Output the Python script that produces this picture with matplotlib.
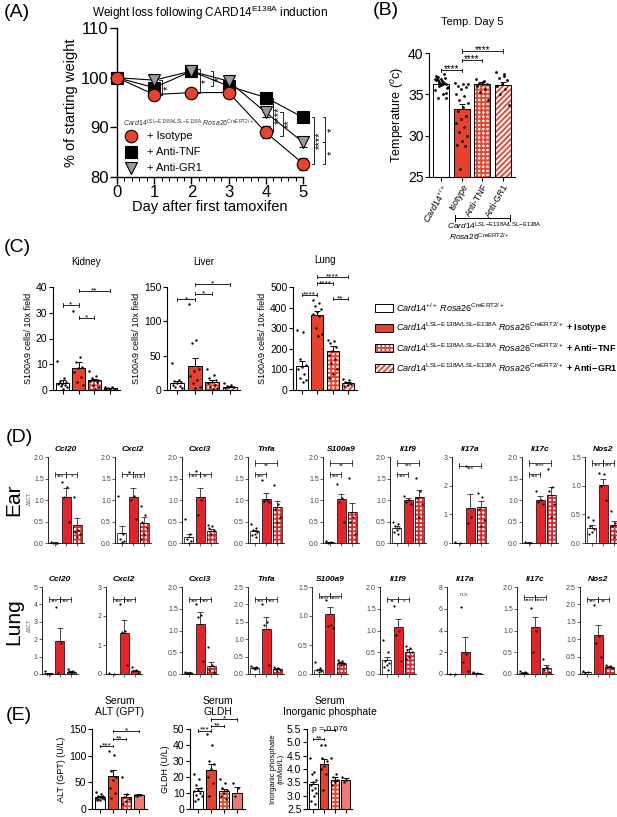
import numpy as np
import matplotlib
matplotlib.use("Agg")
import matplotlib.pyplot as plt
from matplotlib.patches import Rectangle

plt.rcParams['font.family'] = ['Liberation Sans', 'DejaVu Sans']
plt.rcParams['mathtext.fontset'] = 'custom'
plt.rcParams['mathtext.rm'] = 'Liberation Sans'
plt.rcParams['mathtext.it'] = 'Liberation Sans:italic'
plt.rcParams['mathtext.bf'] = 'Liberation Sans:bold'
plt.rcParams['hatch.linewidth'] = 1.3

RED = '#e8412c'
DRED = '#e3242b'
W, H = 617, 817

# ---------------- data ----------------
# (A) weight loss
days = [0, 1, 2, 3, 4, 5]
w_iso = [100, 96.6, 97.0, 97.0, 89.0, 82.7]
w_iso_err = [0.3, 0.8, 0.8, 0.9, 1.2, 1.2]
w_tnf = [100, 98.0, 101.3, 98.3, 96.0, 92.0]
w_tnf_err = [0.3, 0.8, 0.8, 0.8, 0.8, 0.8]
w_gr1 = [100, 99.5, 101.3, 99.3, 93.0, 87.0]
w_gr1_err = [0.3, 0.8, 0.8, 0.8, 1.0, 1.0]

# (B) temperature day 5
temp_labels = [r'$\mathit{Card14}^{+/+}$', 'Isotype', 'Anti-TNF', 'Anti-GR1']
temp_means = [36.2, 33.2, 36.2, 36.1]
temp_sems = [0.15, 0.6, 0.25, 0.35]
temp_dots = [
    [36.9, 36.5, 36.7, 36.2, 36.8, 37.2, 36.4, 36.0, 35.8, 36.6, 36.9, 37.0, 36.3,
     35.5, 35.0, 34.6, 34.5, 36.1, 36.7, 37.4, 36.5, 35.9, 36.2, 37.1, 35.2],
    [36.4, 36.3, 36.0, 35.9, 35.6, 35.0, 34.8, 34.3, 33.9, 33.5, 33.0, 32.4, 32.0,
     31.5, 31.0, 30.5, 30.0, 29.4, 28.9, 28.8, 26.0, 36.2],
    [36.9, 36.6, 36.4, 36.3, 36.2, 36.0, 35.7, 35.3, 34.3, 36.5],
    [37.7, 37.4, 37.0, 36.7, 36.3, 36.0, 35.6, 35.0, 33.7, 37.2],
]

# (C) S100A9 cells
organs = ['Kidney', 'Liver', 'Lung']
s100_means = [[2.8, 8.5, 3.8, 0.7], [10.5, 35, 12, 5], [115, 365, 188, 35]]
s100_sems = [[0.9, 2.5, 0.6, 0.2], [3, 11, 3, 1], [28, 20, 25, 6]]
s100_dots = [
    [[11.2, 4.5, 3.5, 3.0, 2.5, 2.2, 1.8, 1.5, 1.0, 0.5, 2.8],
     [30.5, 13, 11, 9, 8.5, 7, 5, 3, 2],
     [7.5, 5.5, 4.5, 4, 3.8, 3.5, 3, 2, 1, 0.5],
     [1.2, 1.0, 0.6, 0.4, 0.3, 0.2]],
    [[40, 15, 13, 12, 10, 8, 6, 5, 3],
     [125, 73, 68, 30, 28, 20, 15, 10, 5, 3],
     [30, 22, 18, 15, 12, 10, 8, 5, 3, 1],
     [10, 8, 6, 5, 4, 3]],
    [[290, 280, 150, 120, 110, 100, 80, 60, 50, 40],
     [435, 420, 410, 395, 380, 370, 360, 300, 270, 260],
     [245, 240, 230, 210, 190, 170, 150, 130, 100, 80, 60],
     [55, 50, 40, 30, 25, 20]],
]
s100_ymax = [40, 150, 500]
s100_step = [10, 50, 100]

# (D) qPCR
genes = ['Ccl20', 'Cxcl2', 'Cxcl3', 'Tnfa', 'S100a9', 'Il1f9', 'Il17a', 'Il17c', 'Nos2']
ear_means = [[0.01, 1.08, 0.42], [0.24, 1.07, 0.46], [0.13, 1.07, 0.28], [0.27, 1.03, 0.83],
             [0.02, 1.03, 0.71], [0.34, 1.01, 1.08], [0.01, 1.22, 1.26], [0.01, 1.01, 1.11],
             [0.27, 1.02, 0.32]]
ear_sems = [[0.005, 0.2, 0.16], [0.15, 0.22, 0.14], [0.08, 0.22, 0.05], [0.04, 0.14, 0.15],
            [0.01, 0.12, 0.22], [0.05, 0.04, 0.15], [0.005, 0.48, 0.22], [0.005, 0.08, 0.2],
            [0.04, 0.1, 0.06]]
ear_dots = [
    [[0.02, 0.01, 0.0, 0.01], [1.42, 1.3, 1.08, 0.5], [1.07, 0.3, 0.25, 0.2, 0.15]],
    [[1.1, 0.2, 0.1, 0.05, 0.02], [1.65, 1.1, 1.0, 0.55], [0.85, 0.65, 0.5, 0.35, 0.2, 0.1]],
    [[0.55, 0.2, 0.1, 0.05, 0.0], [1.68, 1.0, 0.65], [0.42, 0.4, 0.35, 0.3, 0.2]],
    [[0.45, 0.35, 0.3, 0.25, 0.2, 0.18, 0.15], [1.47, 1.0, 0.98, 0.95], [1.35, 0.9, 0.8, 0.6, 0.5]],
    [[0.05, 0.02, 0.01], [1.37, 1.05, 0.95, 0.5], [1.52, 0.6, 0.5, 0.2]],
    [[0.5, 0.45, 0.4, 0.35, 0.3, 0.25, 0.2], [1.1, 1.0, 0.95, 0.9], [1.52, 1.2, 1.05, 0.9, 0.6]],
    [[0.02, 0.01], [2.7, 0.9, 0.7], [1.75, 1.6, 1.2, 0.8, 0.6]],
    [[0.02, 0.01], [1.2, 1.0, 0.95, 0.9], [1.72, 1.3, 1.2, 0.9, 0.6]],
    [[0.45, 0.4, 0.3, 0.25, 0.2, 0.15], [1.22, 1.2, 1.0, 0.75], [0.55, 0.35, 0.3, 0.2, 0.1]],
]
ear_ymax = [2, 2, 2, 2, 2, 2, 3, 2, 1.5]
ear_sig = [
    [(0, 1, '***', .8), (1, 2, '*', .8)],
    [(0, 1, '*', .8), (1, 2, 'n.s', .8)],
    [(0, 1, '***', .8), (1, 2, '**', .8)],
    [(0, 1, '***', .8), (0, 2, '**', .93)],
    [(0, 1, '***', .8), (0, 2, '**', .93)],
    [(0, 1, '***', .8), (0, 2, '***', .93)],
    [(0, 2, '***', .9)],
    [(0, 1, '***', .8), (0, 2, '****', .93)],
    [(0, 1, '***', .93), (1, 2, '***', .93)],
]

lung_means = [[0.03, 1.9, 0.12], [0.01, 1.4, 0.1], [0.03, 1.15, 0.18], [0.18, 1.28, 0.15],
              [0.07, 1.03, 0.19], [0.32, 1.07, 0.51], [0.01, 2.05, 0.08], [0.03, 1.09, 0.14],
              [0.05, 1.12, 0.2]]
lung_sems = [[0.02, 0.75, 0.05], [0.005, 0.45, 0.04], [0.01, 0.27, 0.1], [0.02, 0.37, 0.02],
             [0.02, 0.12, 0.02], [0.08, 0.2, 0.06], [0.005, 1.35, 0.02], [0.01, 0.22, 0.06],
             [0.01, 0.3, 0.02]]
lung_dots = [
    [[0.15, 0.02, 0.0], [3.85, 1.8, 0.05], [0.3, 0.2, 0.15, 0.1, 0.05]],
    [[0.02, 0.01], [2.42, 1.5, 1.45, 0.3], [0.25, 0.15, 0.1, 0.05]],
    [[0.05, 0.03, 0.02], [1.6, 1.35, 1.3, 0.3], [0.62, 0.2, 0.1, 0.05]],
    [[0.22, 0.2, 0.18, 0.16, 0.15], [2.0, 1.5, 1.4, 0.25], [0.2, 0.17, 0.15, 0.12, 0.1]],
    [[0.2, 0.1, 0.07, 0.05, 0.03], [1.28, 0.85, 0.82, 0.8], [0.25, 0.22, 0.2, 0.18, 0.15]],
    [[0.78, 0.5, 0.3, 0.25, 0.2, 0.15, 0.1], [1.57, 1.0, 0.9, 0.3], [0.65, 0.6, 0.55, 0.5, 0.4, 0.35]],
    [[0.02, 0.01], [6.2, 1.8, 1.1, 0.3], [0.15, 0.1, 0.05]],
    [[0.06, 0.04, 0.03, 0.02], [1.52, 1.0, 0.5], [0.35, 0.15, 0.1, 0.05]],
    [[0.08, 0.05, 0.03], [1.98, 1.1, 0.9, 0.5], [0.25, 0.22, 0.2, 0.18]],
]
lung_ymax = [5, 3, 2, 2.5, 1.5, 2, 8, 2, 2.5]
lung_sig = [
    [(0, 1, '***', .86), (1, 2, '***', .86)],
    [(0, 1, '***', .86), (1, 2, '***', .86)],
    [(0, 1, '***', .86), (1, 2, '***', .86)],
    [(0, 1, '***', .86), (1, 2, '***', .86)],
    [(0, 1, '****', .9), (1, 2, '****', .9)],
    [(0, 1, '**', .86), (1, 2, '*', .86)],
    [],
    [(0, 1, '****', .88), (1, 2, '****', .88)],
    [(0, 1, '***', .86), (1, 2, '**', .86)],
]

# (E) serum
serum_titles = ['Serum\nALT (GPT)', 'Serum\nGLDH', 'Serum\nInorganic phosphate']
serum_ylabels = ['ALT (GPT) (U/L)', 'GLDH (U/L)', 'Inorganic phosphate\n(mMol/L)']
serum_means = [[22, 62, 23, 26], [11.5, 24.5, 11, 10.3], [3.43, 4.17, 3.58, 3.6]]
serum_sems = [[2, 11, 6, 1.5], [1.5, 3.5, 1.8, 3.5], [0.1, 0.2, 0.12, 0.07]]
serum_dots = [
    [[32, 28, 25, 24, 22, 21, 20, 19, 18, 17, 16, 22], [108, 102, 72, 60, 55, 40, 30, 20],
     [60, 28, 22, 18, 15, 10], [27, 26, 25]],
    [[22, 19, 15, 13, 12, 11, 10, 9, 8, 6, 5], [47, 40, 30, 28, 25, 20, 16, 8],
     [19, 16, 13, 12, 10, 8, 6], [16, 13, 8]],
    [[4.4, 3.9, 3.8, 3.6, 3.5, 3.4, 3.3, 3.2, 3.1, 3.0, 2.8, 2.7], [4.9, 4.9, 4.4, 4.3, 4.1, 4.0, 3.8, 3.2],
     [4.4, 3.8, 3.7, 3.6, 3.5, 3.4], [3.7, 3.6, 3.5]],
]
serum_ylim = [(0, 150), (0, 50), (2.5, 5.5)]
serum_ticks = [[0, 50, 100, 150], [0, 10, 20, 30, 40, 50],
               [2.5, 3.0, 3.5, 4.0, 4.5, 5.0, 5.5]]

STYLES4 = ['ctrl', 'iso', 'tnf', 'gr1']
STYLES3 = ['ctrl', 'iso', 'tnf']


# ---------------- helpers ----------------
fig = plt.figure(figsize=(W / 100, H / 100), dpi=100)


def ax_px(left, top, right, bottom):
    return fig.add_axes([left / W, 1 - bottom / H, (right - left) / W, (bottom - top) / H])


def prism(ax, fs, lw=0.8):
    for s in ['top', 'right']:
        ax.spines[s].set_visible(False)
    for s in ['left', 'bottom']:
        ax.spines[s].set_linewidth(lw)
    ax.tick_params(labelsize=fs, width=lw, length=3, pad=1)


def draw_bars(ax, means, sems, styles, dots, red=RED, lw=0.7, ds=3, width=0.8, gr1_solid=False):
    for i, (m, s, st, dv) in enumerate(zip(means, sems, styles, dots)):
        if st == 'ctrl':
            ax.bar(i, m, width, color='white', edgecolor='k', lw=lw, zorder=2)
        elif st == 'iso':
            ax.bar(i, m, width, color=red, edgecolor='k', lw=lw, zorder=2)
        elif st == 'gr1' and gr1_solid:
            ax.bar(i, m, width, color='#f07a72', edgecolor='k', lw=lw, zorder=2)
        else:
            hatch = '++++' if st == 'tnf' else '//////'
            ax.bar(i, m, width, color='white', edgecolor=red, hatch=hatch, lw=0, zorder=2)
            ax.bar(i, m, width, fill=False, edgecolor='k', lw=lw, zorder=2)
        ax.errorbar(i, m, yerr=[[0], [s]], color='k', lw=lw, capsize=width * 3, capthick=lw, zorder=3)
        n = len(dv)
        off = ((np.arange(n) * 0.618) % 1 - 0.5) * width * 0.8
        ax.scatter(i + off, dv, s=ds, color='k', zorder=4, clip_on=False, lw=0)
    ax.set_xlim(-0.6, len(means) - 0.4)
    ax.set_xticks(range(len(means)))
    ax.set_xticklabels([])


def sig(ax, x1, x2, y, text, fs, lw=0.6, tick=0.03, dy=0.0):
    yr = ax.get_ylim()
    h = (yr[1] - yr[0]) * tick
    ax.plot([x1, x1], [y - h, y + h], color='k', lw=lw, clip_on=False)
    ax.plot([x2, x2], [y - h, y + h], color='k', lw=lw, clip_on=False)
    ax.plot([x1, x2], [y, y], color='k', lw=lw, clip_on=False)
    ax.text((x1 + x2) / 2, y + dy, text, ha='center', va='bottom', fontsize=fs, clip_on=False)


# ---------------- (A) ----------------
axA = ax_px(117, 28, 303, 177)
prism(axA, 12, lw=1.0)
axA.tick_params(length=5)
axA.plot(days, w_tnf, color='k', lw=0.8, zorder=2, clip_on=False)
axA.plot(days, w_gr1, color='k', lw=0.8, zorder=2, clip_on=False)
axA.plot(days, w_iso, color='k', lw=0.8, zorder=2, clip_on=False)
for y, e, mk, fc, ms in [(w_tnf, w_tnf_err, 's', 'k', 9), (w_gr1, w_gr1_err, 'v', '#9a9a9a', 9),
                         (w_iso, w_iso_err, 'o', RED, 9)]:
    eb = axA.errorbar(days, y, yerr=e, fmt=mk, ms=ms, mfc=fc, mec='k', mew=0.8, ecolor='k',
                      elinewidth=0.8, capsize=3, zorder=3)
    eb.lines[0].set_clip_on(False)
    for art in eb.lines[1] + eb.lines[2]:
        art.set_clip_on(False)
axA.set_xlim(0, 5)
axA.set_ylim(80, 110)
axA.set_yticks([80, 90, 100, 110])
axA.set_xticks(days)
axA.xaxis.set_minor_locator(matplotlib.ticker.MultipleLocator(0.2))
axA.tick_params(axis='x', which='minor', length=3, width=0.8)
axA.set_ylabel('% of starting weight', fontsize=10.5, labelpad=2)
axA.set_xlabel('Day after first tamoxifen', fontsize=10.5, labelpad=0)
axA.set_title(r'Weight loss following CARD14$^{\mathrm{E138A}}$ induction', fontsize=8.5, pad=8)


def vsig(ax, x, y1, y2, text, fs=8, w=0.06):
    ax.plot([x - w, x, x, x - w], [y1, y1, y2, y2], color='k', lw=0.6, clip_on=False)
    ax.text(x + 0.03, (y1 + y2) / 2, text, rotation=90, ha='left', va='center',
            fontsize=fs, clip_on=False)


vsig(axA, 1.2, 99.5, 96.6, '*')
vsig(axA, 2.22, 101.8, 97.0, '*', fs=7)
vsig(axA, 2.58, 101.3, 98.3, '*', fs=7)
vsig(axA, 4.2, 96.0, 89.0, '****')
vsig(axA, 4.45, 93.0, 88.3, '**')
vsig(axA, 5.3, 92.0, 82.7, '****')
vsig(axA, 5.6, 92.0, 87.0, '*')
vsig(axA, 5.6, 87.0, 82.7, '*')

# ---------------- (B) ----------------
axB = ax_px(429, 53, 515, 177)
prism(axB, 10, lw=0.8)
axB.set_ylim(25, 40)
draw_bars(axB, temp_means, temp_sems, STYLES4, temp_dots, ds=4)
axB.set_yticks([25, 30, 35, 40])
axB.set_xticklabels(temp_labels, rotation=60, ha='right', rotation_mode='anchor', fontsize=6.5)
axB.set_ylabel('Temperature ($^o$c)', fontsize=9, labelpad=1)
axB.set_title('Temp. Day 5', fontsize=8, pad=20)
sig(axB, 0, 1, 37.9, '****', 7, tick=0.015, dy=-0.4)
sig(axB, 1, 2, 39.1, '****', 7, tick=0.015, dy=-0.4)
sig(axB, 1, 3, 40.2, '****', 7, tick=0.015, dy=-0.4)

# ---------------- (C) ----------------
c_pos = [(53, 120), (167, 240), (293, 357)]
c_sig = [
    [(0, 1, '*', 33), (1, 2, '*', 28), (1, 3, '**', 38.5)],
    [(0, 1, '*', 132), (1, 2, '*', 140), (1, 3, '*', 154)],
    [(0, 1, '****', 463), (1, 2, '****', 518), (2, 3, '**', 444), (1, 3, '****', 550)],
]
for k in range(3):
    ax = ax_px(c_pos[k][0], 287, c_pos[k][1], 390)
    prism(ax, 7.5, lw=0.8)
    ax.set_ylim(0, s100_ymax[k])
    draw_bars(ax, s100_means[k], s100_sems[k], STYLES4, s100_dots[k], ds=3)
    ax.set_yticks(np.arange(0, s100_ymax[k] + 1, s100_step[k]))
    ax.set_ylabel('S100A9 cells/ 10x field', fontsize=6.5, labelpad=2)
    ax.set_title(organs[k], fontsize=7, pad=17 if k == 2 else 16)
    for a, b, t, y in c_sig[k]:
        sig(ax, a, b, y, t, 6, tick=0.015, dy=-s100_ymax[k] * 0.035)

# ---------------- (D) ----------------
ear_x = [48, 115, 182, 248, 323, 390, 452, 522, 585]
lung_x = [42, 106, 182, 248, 312, 380, 447, 517, 580]


def tick_fmt(ymax):
    if ymax in (3, 5):
        return np.arange(0, ymax + 0.01, 1), '%d'
    if ymax == 8:
        return np.arange(0, ymax + 0.01, 2), '%d'
    return np.arange(0, ymax + 0.01, 0.5), '%.1f'


for row, (xs, top, bot, means, sems, dots, ymaxs, sigs) in enumerate([
        (ear_x, 457, 543, ear_means, ear_sems, ear_dots, ear_ymax, ear_sig),
        (lung_x, 587, 674, lung_means, lung_sems, lung_dots, lung_ymax, lung_sig)]):
    for g in range(9):
        ax = ax_px(xs[g], top, xs[g] + 36, bot)
        prism(ax, 5, lw=0.6)
        ax.tick_params(length=2, colors='#444444', labelcolor='#444444')
        ax.set_ylim(0, ymaxs[g])
        draw_bars(ax, means[g], sems[g], STYLES3, dots[g], red=DRED, lw=0.5, ds=2.5)
        tk, fmt = tick_fmt(ymaxs[g])
        ax.set_yticks(tk)
        ax.set_yticklabels([fmt % t for t in tk])
        ax.set_title(genes[g], fontsize=6, fontweight='bold', fontstyle='italic', pad=4)
        for a, b, t, fr in sigs[g]:
            sig(ax, a, b, fr * ymaxs[g], t, 4.5, lw=0.5, tick=0.03, dy=-ymaxs[g] * 0.06)
        if row == 1 and g == 6:
            ax.text(1, 0.9 * ymaxs[g], 'n.s.', ha='center', fontsize=4.5, color='#555555')

# ---------------- (E) ----------------
e_pos = [(92, 147), (190, 245), (307, 352)]
e_sig = [
    [(0, 1, '***', 118), (1, 2, '**', 131), (1, 3, '*', 146)],
    [(0, 1, '***', 49), (1, 2, '**', 52), (1, 3, '*', 56)],
    [(0, 1, '**', 5.13), (1, 2, 'p = 0.076', 5.46)],
]
for k in range(3):
    ax = ax_px(e_pos[k][0], 729, e_pos[k][1], 809)
    prism(ax, 7.5, lw=0.8)
    ax.set_ylim(*serum_ylim[k])
    draw_bars(ax, serum_means[k], serum_sems[k], STYLES4, serum_dots[k], ds=3, gr1_solid=True)
    ax.set_yticks(serum_ticks[k])
    if k == 2:
        ax.set_yticklabels(['%.1f' % t for t in serum_ticks[k]])
    ax.set_ylabel(serum_ylabels[k], fontsize=6.5 if k < 2 else 5.5, labelpad=2, linespacing=1.0)
    ax.set_title(serum_titles[k], fontsize=7.5, pad=10, linespacing=1.1)
    rng = serum_ylim[k][1] - serum_ylim[k][0]
    for a, b, t, y in e_sig[k]:
        sig(ax, a, b, y, t, 6, tick=0.015, dy=-rng * 0.04)

# ---------------- overlay text ----------------
ov = fig.add_axes([0, 0, 1, 1])
ov.set_xlim(0, W)
ov.set_ylim(H, 0)
ov.axis('off')

for lab, x, y in [('(A)', 4, 12), ('(B)', 373, 10), ('(C)', 4, 247), ('(D)', 6, 437), ('(E)', 6, 716)]:
    ov.text(x, y, lab, fontsize=14, va='center', ha='left')

# legend inside A
ov.text(123, 123, r'$\mathit{Card14}^{\mathrm{LSL\!-\!E138A/LSL\!-\!E138A}}\ \mathit{Rosa26}^{\mathrm{CreERT2/+}}$',
        fontsize=5, va='center', color='#333333')
for y, mk, fc, lab in [(136, 'o', RED, '+ Isotype'), (152, 's', 'k', '+ Anti-TNF'),
                       (168, 'v', '#9a9a9a', '+ Anti-GR1')]:
    ov.plot([131], [y], marker=mk, ms=9, mfc=fc, mec='k', mew=0.8, ls='none')
    ov.text(147, y, lab, fontsize=8, va='center')

# genotype bracket under B
ov.plot([455, 455, 510, 510], [215, 218, 218, 215], color='k', lw=0.7)
ov.plot([455, 455, 510, 510], [221, 218, 218, 221], color='k', lw=0.7)
ov.text(494, 226, r'$\mathit{Card14}^{\mathrm{LSL\!-\!E138A/LSL\!-\!E138A}}$', fontsize=6, ha='center', va='center')
ov.text(480, 237, r'$\mathit{Rosa26}^{\mathrm{CreERT2/+}}$', fontsize=6, ha='center', va='center')

# legend for C
mut = r'\mathit{Card14}^{\mathrm{LSL\!-\!E138A/LSL\!-\!E138A}}\ \mathit{Rosa26}^{\mathrm{CreERT2/+}}'
legC = [
    ('ctrl', r'$\mathit{Card14}^{+/+}\ \mathit{Rosa26}^{\mathrm{CreERT2/+}}$'),
    ('iso', '$' + mut + r'\ \mathbf{+\ Isotype}$'),
    ('tnf', '$' + mut + r'\ \mathbf{+\ Anti\!-\!TNF}$'),
    ('gr1', '$' + mut + r'\ \mathbf{+\ Anti\!-\!GR1}$'),
]
for j, (st, lab) in enumerate(legC):
    y = 308 + j * 20
    if st == 'ctrl':
        ov.add_patch(Rectangle((375, y - 4), 18, 8, facecolor='white', edgecolor='k', lw=0.7))
    elif st == 'iso':
        ov.add_patch(Rectangle((375, y - 4), 18, 8, facecolor=RED, edgecolor='k', lw=0.7))
    else:
        ov.add_patch(Rectangle((375, y - 4), 18, 8, facecolor='white', edgecolor=RED, lw=0,
                               hatch='++++' if st == 'tnf' else '//////'))
        ov.add_patch(Rectangle((375, y - 4), 18, 8, fill=False, edgecolor='k', lw=0.7))
    ov.text(396, y, lab, fontsize=6.5, va='center')

# row labels D
ov.text(14, 500, 'Ear', fontsize=15, rotation=90, va='center', ha='center')
ov.text(14, 622, 'Lung', fontsize=15, rotation=90, va='center', ha='center')
ov.text(29, 498, 'ΔΔCT', fontsize=3.5, rotation=90, va='center', ha='center', color='#555555')
ov.text(29, 625, 'ΔΔCT', fontsize=3.5, rotation=90, va='center', ha='center', color='#555555')

fig.savefig('out.png', dpi=100)
